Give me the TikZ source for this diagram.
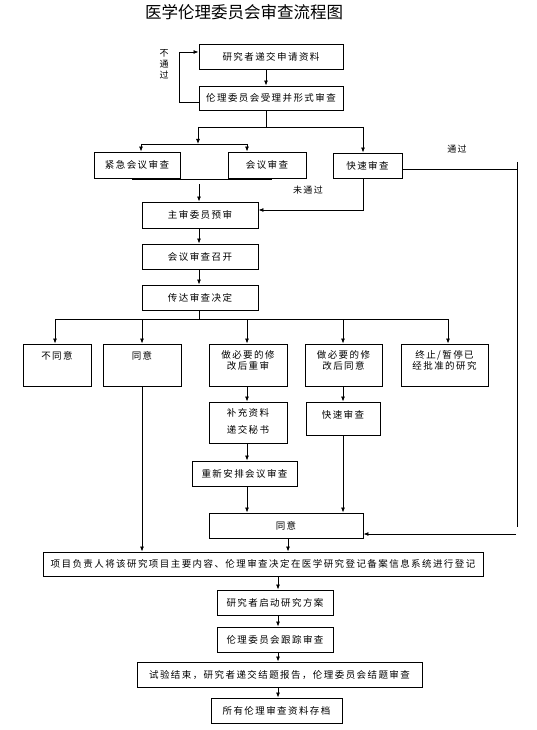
\documentclass[tikz,border=0pt]{standalone}
\usepackage{fontspec}
\setmainfont{Noto Sans CJK SC}[LetterSpace=15]
\newfontfamily\titlefont{Noto Sans CJK SC}
\usetikzlibrary{arrows.meta}
\begin{document}
\begin{tikzpicture}[x=1pt,y=-1pt,
  line width=0.8pt,
  box/.style={draw, line width=0.9pt, inner sep=0pt, font=\fontsize{9.5}{11}\selectfont},
  lbl/.style={inner sep=0pt, font=\fontsize{9.5}{11}\selectfont, align=center, anchor=north},
  arr/.style={-{Latex[length=5pt,width=4pt]}},
  note/.style={inner sep=0pt, font=\fontsize{9}{11}\selectfont, align=center}]
\useasboundingbox (0,0) rectangle (536,730);

% title
\node[inner sep=0pt, font=\titlefont\fontsize{16.5}{18}\selectfont] (title) at (244,12) {医学伦理委员会审查流程图};

% top boxes
\node[box, minimum width=144pt, minimum height=25pt] (b1) at (271,56.5) {研究者递交申请资料};
\node[box, minimum width=144pt, minimum height=24pt] (b2) at (271,98) {伦理委员会受理并形式审查};
\node[box, minimum width=86pt, minimum height=26pt] (b3) at (137,165) {紧急会议审查};
\node[box, minimum width=78pt, minimum height=26pt] (b4) at (267,165) {会议审查};
\node[box, minimum width=69pt, minimum height=25pt] (b5) at (367.5,165.5) {快速审查};
\node[box, minimum width=116pt, minimum height=26pt] (b6) at (200,215) {主审委员预审};
\node[box, minimum width=116pt, minimum height=25pt] (b7) at (200,256.5) {会议审查召开};
\node[box, minimum width=116pt, minimum height=25pt] (b8) at (200,297.5) {传达审查决定};

% decision boxes
\node[box, minimum width=68pt, minimum height=42pt, label={[lbl, yshift=-7pt]north:不同意}] (c1) at (57,365) {};
\node[box, minimum width=78pt, minimum height=42pt, label={[lbl, yshift=-7pt]north:同意}] (c2) at (142,365) {};
\node[box, minimum width=78pt, minimum height=42pt, label={[lbl, yshift=-7pt]north:做必要的修\\改后重审}] (c3) at (248,365) {};
\node[box, minimum width=77pt, minimum height=42pt, label={[lbl, yshift=-7pt]north:做必要的修\\改后同意}] (c4) at (343.5,365) {};
\node[box, minimum width=87pt, minimum height=42pt, label={[lbl, yshift=-7pt]north:终止/暂停已\\经批准的研究}] (c5) at (444.5,365) {};

\node[box, minimum width=78pt, minimum height=41pt, label={[lbl, yshift=-7pt]north:补充资料\\[6pt]递交秘书}] (d1) at (248,422.5) {};
\node[box, minimum width=74pt, minimum height=33pt, label={[lbl, yshift=-8pt]north:快速审查}] (d2) at (343,418.5) {};
\node[box, minimum width=105pt, minimum height=25pt] (d3) at (244.5,473.5) {重新安排会议审查};

% bottom boxes
\node[box, minimum width=154pt, minimum height=25pt] (e1) at (286,525.5) {同意};
\node[box, minimum width=440pt, minimum height=24pt] (e2) at (263,564) {项目负责人将该研究项目主要内容、伦理审查决定在医学研究登记备案信息系统进行登记};
\node[box, minimum width=116pt, minimum height=25pt] (e3) at (275,602.5) {研究者启动研究方案};
\node[box, minimum width=116pt, minimum height=25pt] (e4) at (275,639.5) {伦理委员会跟踪审查};
\node[box, minimum width=285pt, minimum height=25pt] (e5) at (279.5,674.5) {试验结束，研究者递交结题报告，伦理委员会结题审查};
\node[box, minimum width=131pt, minimum height=25pt] (e6) at (276.5,710.5) {所有伦理审查资料存档};

% notes
\node[note] (n1) at (164,64) {不\\通\\过};
\node[note] (n2) at (457,149) {通过};
\node[note] (n3) at (308,190) {未通过};

% b1 -> b2 and feedback
\draw[arr] ([xshift=-5pt]b1.south) -- ([xshift=-5pt]b1.south |- b2.north);
\draw[arr] ([yshift=-4pt]b2.west) -- ++(-19,0) |- ([yshift=4.5pt]b1.west);

% split after b2
\coordinate (j1) at (266,127);
\coordinate (j1l) at (198,127);
\coordinate (j1r) at (363,127);
\draw ([xshift=-5pt]b2.south) -- (j1);
\draw (j1l) -- (j1r);
\draw[arr] (j1r) -- (j1r |- b5.north);
\coordinate (j2) at (198,144);
\coordinate (j2l) at (141,144);
\coordinate (j2r) at (247,144);
\draw[arr] (j1l) -- (j2);
\draw (j2l) -- (j2r);
\draw[arr] (j2l) -- (j2l |- b3.north);
\draw[arr] (j2r) -- (j2r |- b4.north);

% merge into b6
\coordinate (m1) at (132,179);
\coordinate (m2) at (272,179);
\draw (m1) -- (m2);
\coordinate (m3) at (199,184);
\draw[arr] (m3) -- (m3 |- b6.north);

% 未通过
\draw[arr] ([xshift=-4.5pt]b5.south) |- ([yshift=5pt]b6.east);

% 通过 line on right
\coordinate (r1) at (517,162);
\coordinate (r2) at (517,527);
\coordinate (r3) at (516,534);
\draw ([yshift=-3.5pt]b5.east) -- (r1 |- 0,169);
\draw (r1) -- (r2);
\draw[arr] (r3) -- ([yshift=-8.5pt]e1.east);

% b6 -> b7 -> b8
\draw[arr] ([xshift=-1pt]b6.south) -- ([xshift=-1pt]b7.north);
\draw[arr] ([xshift=-1pt]b7.south) -- ([xshift=-1pt]b8.north);

% split after b8
\coordinate (k0) at (199,319);
\coordinate (kl) at (55,319);
\coordinate (kr) at (448,319);
\draw ([xshift=-1pt]b8.south) -- (k0);
\draw (kl) -- (kr);
\draw[arr] (kl) -- (kl |- c1.north);
\draw[arr] (c2.north |- k0) -- (c2.north);
\draw[arr] (247,319) -- (247,319 |- c3.north);
\draw[arr] (343,319) -- (343,319 |- c4.north);
\draw[arr] (kr) -- (kr |- c5.north);

% middle chains
\draw[arr] ([xshift=-1pt]c3.south) -- ([xshift=-1pt]c3.south |- d1.north);
\draw[arr] ([xshift=-0.5pt]c4.south) -- ([xshift=-0.5pt]c4.south |- d2.north);
\draw[arr] ([xshift=-1pt]d1.south) -- ([xshift=-1pt]d1.south |- d3.north);
\draw[arr] ([xshift=2.5pt]d3.south) -- ([xshift=2.5pt]d3.south |- e1.north);
\draw[arr] (d2.south) -- (d2.south |- e1.north);

% to e2
\draw[arr] (c2.south) -- (c2.south |- e2.north);
\draw[arr] ([xshift=2pt]e1.south) -- ([xshift=2pt]e1.south |- e2.north);

% bottom chain
\draw[arr] ([xshift=15pt]e2.south) -- ([xshift=15pt]e2.south |- e3.north);
\draw[arr] ([xshift=3pt]e3.south) -- ([xshift=3pt]e4.north);
\draw[arr] ([xshift=3pt]e4.south) -- ([xshift=3pt]e4.south |- e5.north);
\draw[arr] ([xshift=-1.5pt]e5.south) -- ([xshift=-1.5pt]e5.south |- e6.north);
\end{tikzpicture}
\end{document}
